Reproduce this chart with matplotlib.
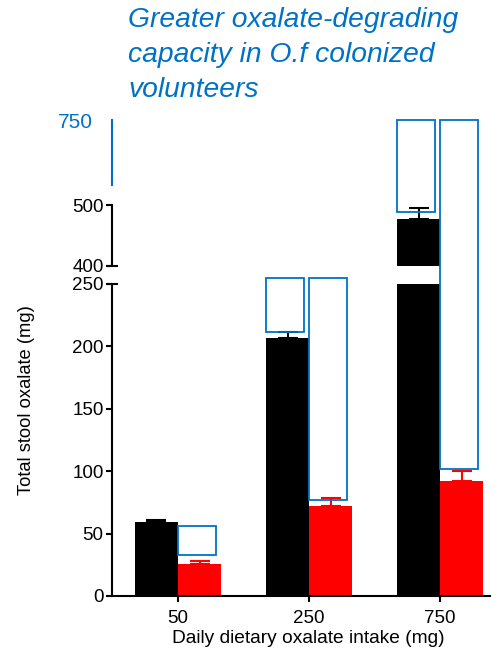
import matplotlib.pyplot as plt
import numpy as np
from matplotlib.patches import Rectangle

plt.rcParams['font.family'] = ['Liberation Sans', 'DejaVu Sans']

# oxalate intake groups and stool oxalate (mg), mean + upper error
intake = ['50', '250', '750']
not_colonized = [59.5, 206.5, 476.5]
not_colonized_err = [1.6, 5.3, 18.5]
colonized = [25.6, 72.0, 92.4]
colonized_err = [2.4, 6.5, 8.0]

# degraded oxalate boxes: group index, series (0 = black, 1 = red), bottom, top
box_group = [0, 1, 1, 2, 2]
box_series = [1, 0, 1, 0, 1]
box_bottom = [33, 211.5, 77, 488.5, 102]
box_top = [56, 255, 255, 750, 750]

BLUE = '#0072C6'
W = 0.33
LW = 1.5

fig = plt.figure(figsize=(4.92, 6.55), dpi=100)
left, width = 112 / 492, 378 / 492
ax_lo = fig.add_axes([left, 59 / 655, width, 312 / 655])
ax_mid = fig.add_axes([left, 389 / 655, width, 61 / 655])
ax_top = fig.add_axes([left, 470 / 655, width, 65 / 655])

x = np.arange(len(intake))
x_black = x - W / 2
x_red = x + W / 2

for ax in (ax_lo, ax_mid):
    ax.bar(x_black, not_colonized, W, color='black', zorder=2)
    ax.bar(x_red, colonized, W, color='#FF0000', zorder=2)
    ax.errorbar(x_black, not_colonized, yerr=[np.zeros(3), not_colonized_err],
                fmt='none', ecolor='black', elinewidth=LW, capsize=7.5, capthick=LW, zorder=3)
    ax.errorbar(x_red, colonized, yerr=[np.zeros(3), colonized_err],
                fmt='none', ecolor='#FF0000', elinewidth=LW, capsize=7.5, capthick=LW, zorder=3)

for ax in (ax_lo, ax_mid, ax_top):
    ax.set_xlim(-0.504, 2.38)
    for s in ('top', 'right'):
        ax.spines[s].set_visible(False)
    ax.spines['left'].set_linewidth(LW)
    ax.spines['bottom'].set_linewidth(LW)
    ax.set_facecolor('none')

# lower segment 0-250
ax_lo.set_ylim(0, 250)
ax_lo.set_yticks([0, 50, 100, 150, 200, 250])
ax_lo.set_xticks(x)
ax_lo.set_xticklabels(intake)
ax_lo.tick_params(axis='both', direction='out', length=4, width=LW, labelsize=13.5)
ax_lo.tick_params(axis='y', pad=2)
ax_lo.tick_params(axis='x', pad=6)
ax_lo.set_xlabel('Daily dietary oxalate intake (mg)', fontsize=13.8)
ax_lo.xaxis.set_label_coords((308 - 112) / 378, -0.11)

# middle segment 400-500
ax_mid.set_ylim(400, 500)
ax_mid.set_yticks([400, 500])
ax_mid.spines['bottom'].set_visible(False)
ax_mid.set_xticks([])
ax_mid.tick_params(axis='y', direction='out', length=4, width=LW, labelsize=13.5, pad=2)

# top segment, 750 only
ax_top.set_ylim(650, 750)
ax_top.set_yticks([750])
ax_top.spines['bottom'].set_visible(False)
ax_top.spines['left'].set_color(BLUE)
ax_top.set_xticks([])
ax_top.tick_params(axis='y', length=0, labelsize=15, labelcolor=BLUE, pad=14)

# break marks across the axis
ax_lo.plot([-0.014, 0.016], [1, 1], transform=ax_lo.transAxes, clip_on=False,
           color='black', lw=LW, solid_capstyle='butt')
ax_mid.plot([-0.014, 0.016], [0, 0], transform=ax_mid.transAxes, clip_on=False,
            color='black', lw=LW, solid_capstyle='butt')


def to_fig(xv, v):
    ax = ax_lo if v <= 260 else (ax_mid if v <= 520 else ax_top)
    return fig.transFigure.inverted().transform(ax.transData.transform((xv, v)))


box_w = 0.29
for g, s, b, t in zip(box_group, box_series, box_bottom, box_top):
    x0 = x[g] - W if s == 0 else x[g]
    p0 = to_fig(x0, b)
    p1 = to_fig(x0 + box_w, t)
    fig.add_artist(Rectangle(p0, p1[0] - p0[0], p1[1] - p0[1], transform=fig.transFigure,
                             fill=False, edgecolor=BLUE, lw=1.3, zorder=4))

fig.text(27 / 492, 1 - 400 / 655, 'Total stool oxalate (mg)', rotation=90,
         ha='center', va='center', fontsize=13.2)
fig.text(128 / 492, 0.989, 'Greater oxalate-degrading\ncapacity in O.f colonized\nvolunteers',
         ha='left', va='top', fontsize=20.3, style='italic', color=BLUE, linespacing=1.44)

fig.savefig('out.png', dpi=100)
